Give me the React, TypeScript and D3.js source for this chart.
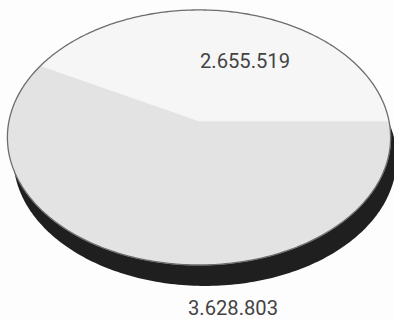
import React from "react";
import * as d3 from "d3";

const sliceValues = [3628803, 2655519];
const sliceColors = ["#e3e3e3", "#f6f6f6"];
const labelPositions: [number, number][] = [
  [233, 315],
  [245, 68],
];

const W = 394;
const H = 319;
const cx = 199;
const cy = 121;
const sx = 190;
const sy = 125.4;
const k = 0.129;
const depth = 21;
const shiftX = 6;

function project(a: number, r: number, down: number): [number, number] {
  const u = r * Math.sin(a);
  const v = -r * Math.cos(a);
  const den = 1 - k * v;
  return [cx + (sx * u) / den + down * shiftX, cy + (sy * v) / den + down * depth];
}

function ring(down: number): [number, number][] {
  const pts: [number, number][] = [];
  for (let i = 0; i <= 360; i++) pts.push(project((i / 360) * 2 * Math.PI, 1, down));
  return pts;
}

const fmt = (v: number) => d3.format(",")(v).replace(/,/g, ".");

export default function App() {
  const pie = d3
    .pie<number>()
    .sort(null)
    .value((d) => d)
    .startAngle(Math.PI / 2)
    .endAngle(Math.PI / 2 + 2 * Math.PI);
  const arcs = pie(sliceValues);
  const line = d3.line<[number, number]>().curve(d3.curveLinear);

  const slicePath = (a0: number, a1: number) => {
    const pts: [number, number][] = [project(0, 0, 0)];
    const n = Math.max(2, Math.ceil(((a1 - a0) / (2 * Math.PI)) * 360));
    for (let i = 0; i <= n; i++) pts.push(project(a0 + ((a1 - a0) * i) / n, 1, 0));
    return line(pts) + "Z";
  };

  return (
    <svg
      width={W}
      height={H}
      style={{ position: "absolute", left: 0, top: 0, background: "#fdfdfd" }}
    >
      <rect width={W} height={H} fill="#fdfdfd" />
      <path d={line(ring(1)) + "Z"} fill="#1f1f1f" />
      <path d={line(ring(0)) + "Z"} fill={sliceColors[0]} />
      {arcs.map((a, i) => (
        <path
          key={i}
          d={slicePath(a.startAngle, a.endAngle)}
          fill={sliceColors[i]}
          stroke={sliceColors[i]}
          strokeWidth={0.6}
        />
      ))}
      <path d={line(ring(0)) + "Z"} fill="none" stroke="#6e6e6e" strokeWidth={1.3} />
      {arcs.map((a, i) => (
        <text
          key={"t" + i}
          x={labelPositions[i][0]}
          y={labelPositions[i][1]}
          textAnchor="middle"
          fontFamily="Roboto, 'Noto Sans', sans-serif"
          fontSize={20.5}
          fill="#444"
          textLength={90}
          lengthAdjust="spacingAndGlyphs"
        >
          {fmt(a.data)}
        </text>
      ))}
    </svg>
  );
}
